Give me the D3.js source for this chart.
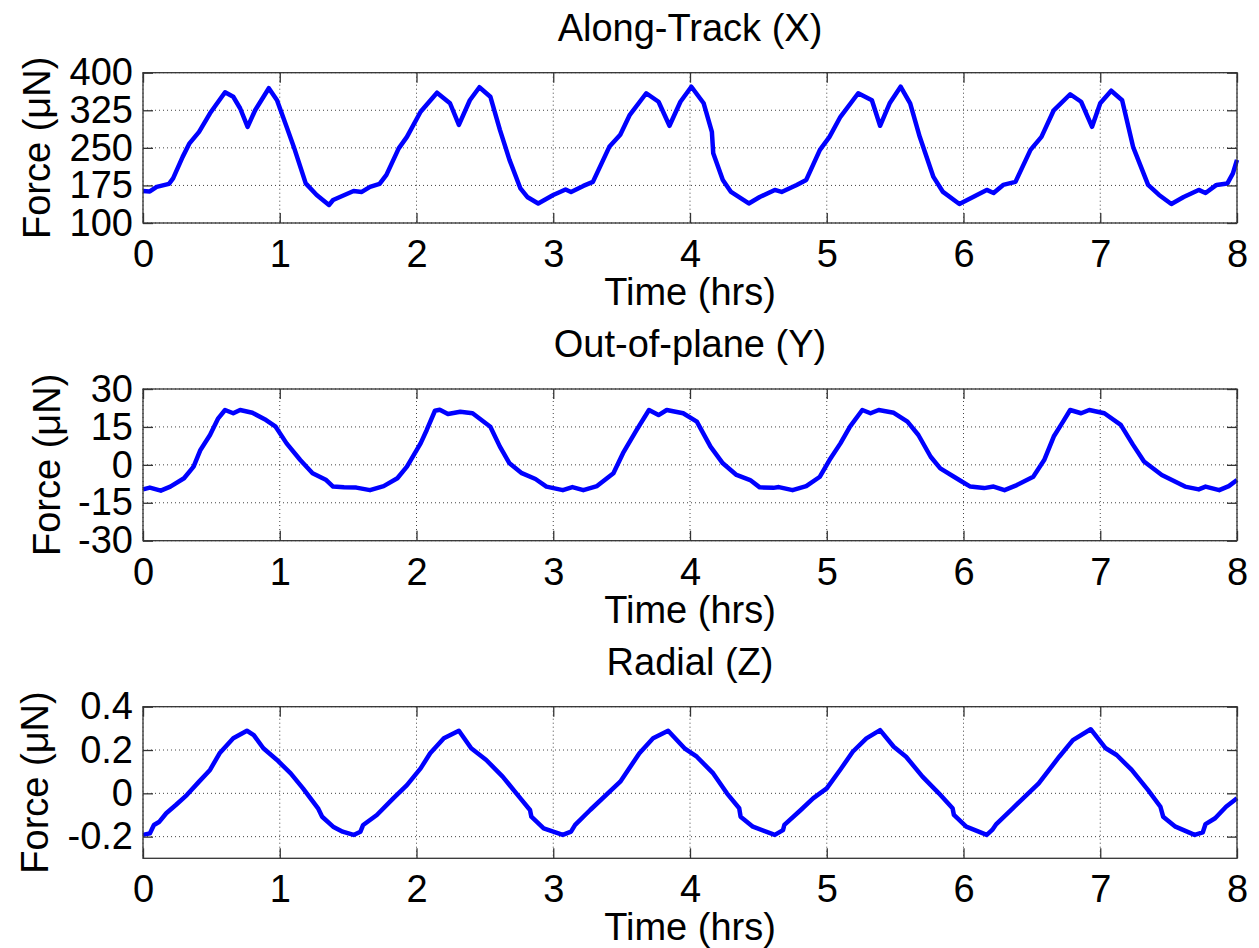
<!DOCTYPE html>
<html>

<head>
    <meta charset="utf-8">
    <title>Force components</title>
    <script src="https://d3js.org/d3.v7.min.js"></script>
    <style>
        body { margin: 0; background: #fff; }
        text { font-family: "Liberation Sans", Arial, sans-serif; fill: #000; }
    </style>
</head>

<body>
    <div id="my_dataviz"></div>
    <script>
        // time (hrs) , force
        var alongTrack = [[0,164],[0.05,163],[0.1,172],[0.19,178],[0.22,189],[0.29,232],[0.34,259],[0.41,282],[0.49,319],[0.6,361],
            [0.66,352],[0.71,329],[0.765,292],[0.82,325],[0.92,369],[0.98,345],[1.05,292],[1.11,246],[1.19,179],[1.27,156],
            [1.36,136],[1.39,146],[1.44,152],[1.54,164],[1.6,162],[1.66,172],[1.73,178],[1.78,196],[1.87,249],[1.93,272],
            [2.03,322],[2.15,360],[2.245,339],[2.31,296],[2.39,345],[2.46,371],[2.54,352],[2.61,286],[2.68,226],[2.76,169],
            [2.81,152],[2.89,139],[3.0,156],[3.09,167],[3.13,162],[3.22,174],[3.29,182],[3.41,252],[3.49,276],[3.56,316],
            [3.68,359],[3.77,342],[3.85,294],[3.93,342],[4.01,372],[4.1,339],[4.16,282],[4.17,239],[4.24,186],[4.3,162],
            [4.43,139],[4.51,152],[4.62,166],[4.67,162],[4.78,176],[4.85,186],[4.95,246],[5.02,272],[5.1,312],[5.23,359],
            [5.33,345],[5.39,294],[5.46,339],[5.54,372],[5.61,339],[5.68,272],[5.78,192],[5.85,162],[5.97,138],[6.07,152],
            [6.17,166],[6.22,160],[6.29,176],[6.38,182],[6.49,246],[6.57,272],[6.66,325],[6.78,357],[6.86,342],[6.94,292],
            [7.0,339],[7.08,364],[7.16,345],[7.24,252],[7.35,176],[7.43,156],[7.52,138],[7.61,152],[7.72,166],[7.77,160],
            [7.85,176],[7.93,179],[7.97,199],[8.0,226]];

        var outOfPlane = [[0,-9.7],[0.05,-9],[0.13,-10.2],[0.2,-8.6],[0.3,-5.3],[0.37,-0.7],[0.42,5.9],[0.49,11.8],[0.55,18.4],[0.6,21.7],
            [0.66,20.4],[0.71,21.7],[0.8,20.6],[0.9,17.7],[0.97,15.1],[1.05,8.5],[1.15,1.9],[1.24,-3.3],[1.34,-6],[1.39,-8.6],
            [1.47,-8.9],[1.56,-9],[1.66,-10],[1.76,-8.4],[1.86,-5.3],[1.93,-0.7],[2.03,8.5],[2.075,13.8],[2.135,21.4],[2.17,21.8],
            [2.23,20.1],[2.32,21],[2.41,20.4],[2.54,15.1],[2.61,7.2],[2.68,0.6],[2.77,-3.3],[2.87,-5.6],[2.95,-8.6],[3.07,-10],
            [3.14,-8.8],[3.22,-10],[3.32,-8.4],[3.44,-3.3],[3.51,4.6],[3.61,13.8],[3.7,21.7],[3.77,19.7],[3.83,21.7],[3.95,20.4],
            [4.05,17.1],[4.15,7.2],[4.24,0.6],[4.34,-4],[4.44,-6],[4.51,-8.9],[4.61,-9.1],[4.65,-8.8],[4.75,-10],[4.85,-8.4],
            [4.95,-4.7],[5.02,1.9],[5.1,8.5],[5.17,15.1],[5.26,21.7],[5.32,20.4],[5.38,21.7],[5.49,20.6],[5.59,17.1],[5.67,11.8],
            [5.76,3.2],[5.83,-1.4],[5.93,-4.7],[5.99,-6.7],[6.05,-8.6],[6.15,-9.2],[6.22,-8.6],[6.3,-10],[6.39,-8],[6.51,-4.7],
            [6.59,1.9],[6.66,11.2],[6.72,16.4],[6.78,21.7],[6.86,20.4],[6.92,21.7],[7.03,20.4],[7.15,15.8],[7.24,7.9],[7.32,1.3],
            [7.45,-4],[7.55,-6.7],[7.62,-8.6],[7.72,-9.7],[7.77,-8.6],[7.87,-10],[7.94,-8.4],[8.0,-6]];

        var radial = [[0,-0.192],[0.05,-0.185],[0.08,-0.146],[0.12,-0.131],[0.17,-0.092],[0.24,-0.054],[0.32,-0.008],[0.41,0.054],[0.49,0.108],[0.56,0.185],
            [0.66,0.254],[0.76,0.289],[0.81,0.269],[0.88,0.208],[0.98,0.154],[1.08,0.092],[1.17,0.023],[1.28,-0.069],[1.31,-0.108],[1.39,-0.154],
            [1.46,-0.177],[1.54,-0.192],[1.59,-0.177],[1.61,-0.146],[1.71,-0.1],[1.83,-0.023],[1.93,0.038],[2.03,0.115],[2.1,0.185],[2.2,0.254],
            [2.31,0.289],[2.4,0.208],[2.51,0.154],[2.63,0.077],[2.76,-0.023],[2.83,-0.077],[2.84,-0.108],[2.93,-0.162],[3.07,-0.192],[3.13,-0.177],
            [3.16,-0.146],[3.27,-0.077],[3.49,0.054],[3.63,0.185],[3.73,0.254],[3.84,0.289],[3.96,0.208],[4.05,0.169],[4.17,0.092],[4.27,0],
            [4.36,-0.069],[4.37,-0.108],[4.46,-0.154],[4.62,-0.192],[4.68,-0.17],[4.69,-0.146],[4.81,-0.077],[4.9,-0.023],[5.0,0.023],[5.1,0.11],
            [5.19,0.192],[5.29,0.254],[5.39,0.292],[5.49,0.215],[5.58,0.169],[5.7,0.077],[5.82,0],[5.92,-0.069],[5.93,-0.1],[6.02,-0.154],
            [6.17,-0.192],[6.21,-0.169],[6.24,-0.142],[6.36,-0.069],[6.55,0.046],[6.7,0.169],[6.8,0.246],[6.93,0.296],[7.04,0.208],[7.12,0.177],
            [7.23,0.108],[7.35,0.015],[7.44,-0.062],[7.46,-0.108],[7.55,-0.154],[7.69,-0.192],[7.75,-0.18],[7.77,-0.142],[7.84,-0.115],[7.92,-0.062],
            [8.0,-0.023]];

        var timeTicks = [0, 1, 2, 3, 4, 5, 6, 7, 8];
        var xTicks = [100, 175, 250, 325, 400];
        var yTicks = [-30, -15, 0, 15, 30];
        var zTicks = [-0.2, 0, 0.2, 0.4];

        var W = 1259, H = 948;
        var left = 143, right = 1237;

        var svg = d3.select("#my_dataviz")
            .append("svg")
            .attr("width", W)
            .attr("height", H);
        svg.append("rect").attr("width", W).attr("height", H).attr("fill", "#fff");

        var x = d3.scaleLinear().domain([0, 8]).range([left, right]);

        function panel(title, data, domain, ticks, top, bottom, labelX) {
            var y = d3.scaleLinear().domain(domain).range([bottom, top]);
            var g = svg.append("g");

            // dotted grid
            g.selectAll(".vgrid").data(timeTicks).enter().append("line")
                .attr("x1", function (d) { return x(d); }).attr("x2", function (d) { return x(d); })
                .attr("y1", top).attr("y2", bottom)
                .attr("stroke", "#444").attr("stroke-width", 1).attr("stroke-dasharray", "1,3");
            g.selectAll(".hgrid").data(ticks).enter().append("line")
                .attr("x1", left).attr("x2", right)
                .attr("y1", function (d) { return y(d); }).attr("y2", function (d) { return y(d); })
                .attr("stroke", "#444").attr("stroke-width", 1).attr("stroke-dasharray", "1,3");

            // the trace
            g.append("path")
                .datum(data)
                .attr("fill", "none")
                .attr("stroke", "#0000ff")
                .attr("stroke-width", 4.5)
                .attr("stroke-linejoin", "round")
                .attr("d", d3.line()
                    .x(function (d) { return x(d[0]); })
                    .y(function (d) { return y(d[1]); }));

            // box axes with inward ticks, MATLAB style
            var fmt = function (d) { return String(d); };
            g.append("g").attr("class", "xax").attr("transform", "translate(0," + bottom + ")")
                .call(d3.axisBottom(x).tickValues(timeTicks).tickSizeInner(-10).tickSizeOuter(0).tickPadding(17).tickFormat(fmt));
            g.append("g").attr("transform", "translate(0," + top + ")")
                .call(d3.axisTop(x).tickValues(timeTicks).tickSizeInner(-10).tickSizeOuter(0).tickFormat(""));
            g.append("g").attr("transform", "translate(" + left + ",0)")
                .call(d3.axisLeft(y).tickValues(ticks).tickSizeInner(-10).tickSizeOuter(0).tickPadding(10).tickFormat(fmt));
            g.append("g").attr("transform", "translate(" + right + ",0)")
                .call(d3.axisRight(y).tickValues(ticks).tickSizeInner(-10).tickSizeOuter(0).tickFormat(""));
            g.selectAll(".domain").remove();
            g.selectAll(".tick line").attr("stroke", "#333").attr("stroke-width", 1.3);
            g.selectAll(".tick text").style("font-size", "38px").attr("fill", "#000");
            g.selectAll(".xax .tick text").attr("dy", "0.71em");
            g.append("rect")
                .attr("x", left).attr("y", top)
                .attr("width", right - left).attr("height", bottom - top)
                .attr("fill", "none").attr("stroke", "#333").attr("stroke-width", 1.3);

            // title and labels
            g.append("text")
                .attr("x", (left + right) / 2).attr("y", top - 32)
                .attr("text-anchor", "middle")
                .style("font-size", "38px")
                .text(title);
            g.append("text")
                .attr("x", (left + right) / 2).attr("y", bottom + 82)
                .attr("text-anchor", "middle")
                .style("font-size", "38px")
                .text("Time (hrs)");
            g.append("text")
                .attr("transform", "translate(" + labelX + "," + (top + bottom) / 2 + ") rotate(-90)")
                .attr("text-anchor", "middle")
                .style("font-size", "38px")
                .text("Force (\u03bcN)");
        }

        panel("Along-Track (X)", alongTrack, [100, 400], xTicks, 72.7, 223, 50);
        panel("Out-of-plane (Y)", outOfPlane, [-30, 30], yTicks, 389, 540.7, 60);
        panel("Radial (Z)", radial, [-0.3, 0.4], zTicks, 706.7, 858.3, 48);
    </script>
</body>

</html>
